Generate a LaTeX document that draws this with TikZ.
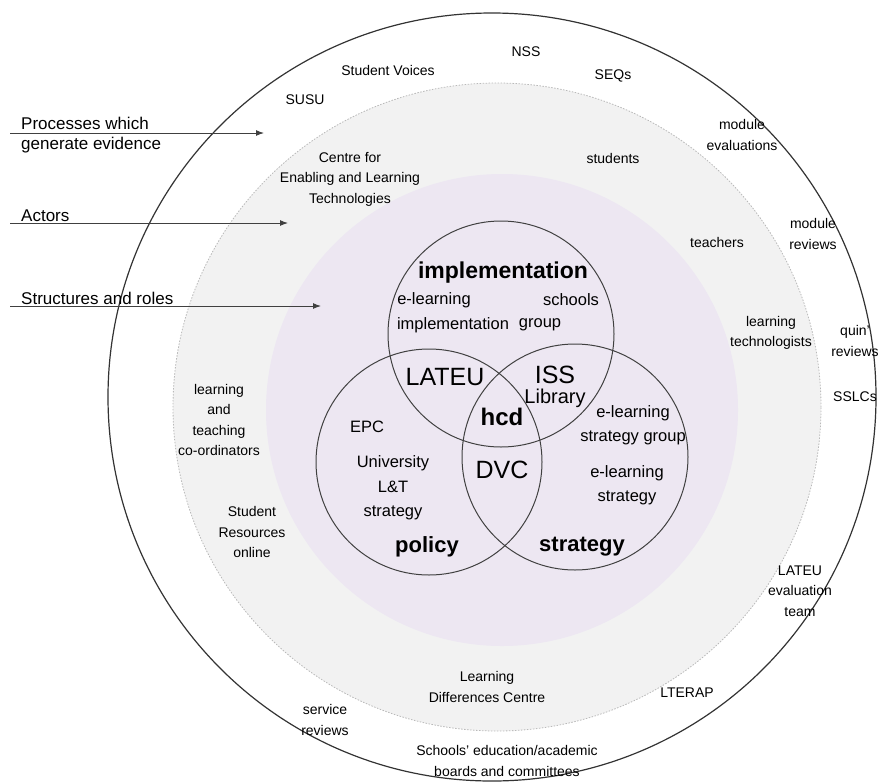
\documentclass[tikz,border=0pt]{standalone}
\usepackage{fontspec}
\setmainfont{Liberation Sans}
\usepackage{xcolor}
\usetikzlibrary{arrows.meta}

\definecolor{ringgrey}{RGB}{242,242,242}
\definecolor{corepurple}{RGB}{237,231,242}

\tikzset{
  ring/.style={font=\fontsize{14}{20.5}\selectfont, align=center, inner sep=0pt},
  venn/.style={font=\fontsize{16.5}{24.5}\selectfont, align=center, inner sep=0pt},
  big/.style={font=\fontsize{25}{28}\selectfont, inner sep=0pt},
  head/.style={font=\bfseries\fontsize{22}{26}\selectfont, inner sep=0pt},
  side/.style={font=\fontsize{17}{20}\selectfont, align=left, anchor=west, inner sep=0pt},
  pointer/.style={draw=black!75, line width=1pt, -{Latex[length=8pt,width=6pt]}}
}

\begin{document}
\begin{tikzpicture}[x=1pt, y=-1pt]
\useasboundingbox (0,0) rectangle (880,782);

% Centres of the rings and of the three sets
\coordinate (O) at (492,397);
\coordinate (G) at (497,407);
\coordinate (P) at (502,410);
\coordinate (I) at (501,334);
\coordinate (L) at (429,462);
\coordinate (S) at (575,457);

% Grey ring (actors) and purple core (structures and roles)
\fill[ringgrey] (G) circle [radius=324pt];
\draw[gray!55, line width=0.8pt, dash pattern=on 1.5pt off 1.5pt] (G) circle [radius=324pt];
\fill[corepurple] (P) circle [radius=236pt];

% Outer circle (processes)
\draw[black!80, line width=1.2pt] (O) circle [radius=384pt];

% Implementation, policy and strategy
\draw[black!75, line width=1pt] (I) circle [radius=113pt];
\draw[black!75, line width=1pt] (L) circle [radius=113pt];
\draw[black!75, line width=1pt] (S) circle [radius=113pt];

% Pointers on the left
\coordinate (procA) at (10,133);
\coordinate (procB) at (264,133);
\coordinate (actA) at (10,223);
\coordinate (actB) at (288,223);
\coordinate (strA) at (10,306);
\coordinate (strB) at (321,306);
\draw[pointer] (procA) -- (procB);
\draw[pointer] (actA) -- (actB);
\draw[pointer] (strA) -- (strB);
\node[side] (proc) at (21,135) {Processes which\\generate evidence};
\node[side] (act) at (21,216) {Actors};
\node[side] (str) at (21,298) {Structures and roles};

% Processes which generate evidence
\node[ring] (nss) at (526,52) {NSS};
\node[ring] (voices) at (388,70) {Student Voices};
\node[ring] (seqs) at (613,76) {SEQs};
\node[ring] (susu) at (305,100) {SUSU};
\node[ring] (modeval) at (742,135) {module\\evaluations};
\node[ring] (modrev) at (813,234) {module\\reviews};
\node[ring] (quin) at (855,341) {quin'\\reviews};
\node[ring] (sslc) at (855,397) {SSLCs};
\node[ring] (evalteam) at (800,591) {LATEU\\evaluation\\team};
\node[ring] (lterap) at (687,693) {LTERAP};
\node[ring] (servrev) at (325,720) {service\\reviews};
\node[ring] (boards) at (507,761) {Schools' education/academic\\boards and committees};

% Actors
\node[ring] (celt) at (350,179) {Centre for\\Enabling and Learning\\Technologies};
\node[ring] (students) at (613,158) {students};
\node[ring] (teachers) at (717,242) {teachers};
\node[ring] (techs) at (771,333) {learning\\technologists};
\node[ring] (coord) at (219,420) {learning\\and\\teaching\\co-ordinators};
\node[ring] (resources) at (252,532) {Student\\Resources\\online};
\node[ring] (ldc) at (487,687) {Learning\\Differences Centre};

% Structures and roles
\node[head, font=\bfseries\fontsize{23}{26}\selectfont] (impl) at (503,273) {implementation};
\node[venn] (elearn) at (434,300) {e-learning};
\node[venn] (implgrp) at (453,325) {implementation};
\node[venn] (schools) at (571,300) {schools};
\node[venn] (group) at (540,325) {group};
\node[big] (lateu) at (445,377) {LATEU};
\node[big] (iss) at (555,375) {ISS};
\node[venn, font=\fontsize{20}{24}\selectfont] (library) at (555,398) {Library};
\node[head, font=\bfseries\fontsize{24}{26}\selectfont] (hcd) at (502,417) {hcd};
\node[venn] (epc) at (367,427) {EPC};
\node[venn] (ltstrat) at (393,488) {University\\L\&T\\strategy};
\node[big] (dvc) at (502,470) {DVC};
\node[head] (policy) at (427,547) {policy};
\node[venn] (elstrgrp) at (633,425) {e-learning\\strategy group};
\node[venn] (elstr) at (627,485) {e-learning\\strategy};
\node[head] (strategy) at (582,547) {strategy};

\end{tikzpicture}
\end{document}
